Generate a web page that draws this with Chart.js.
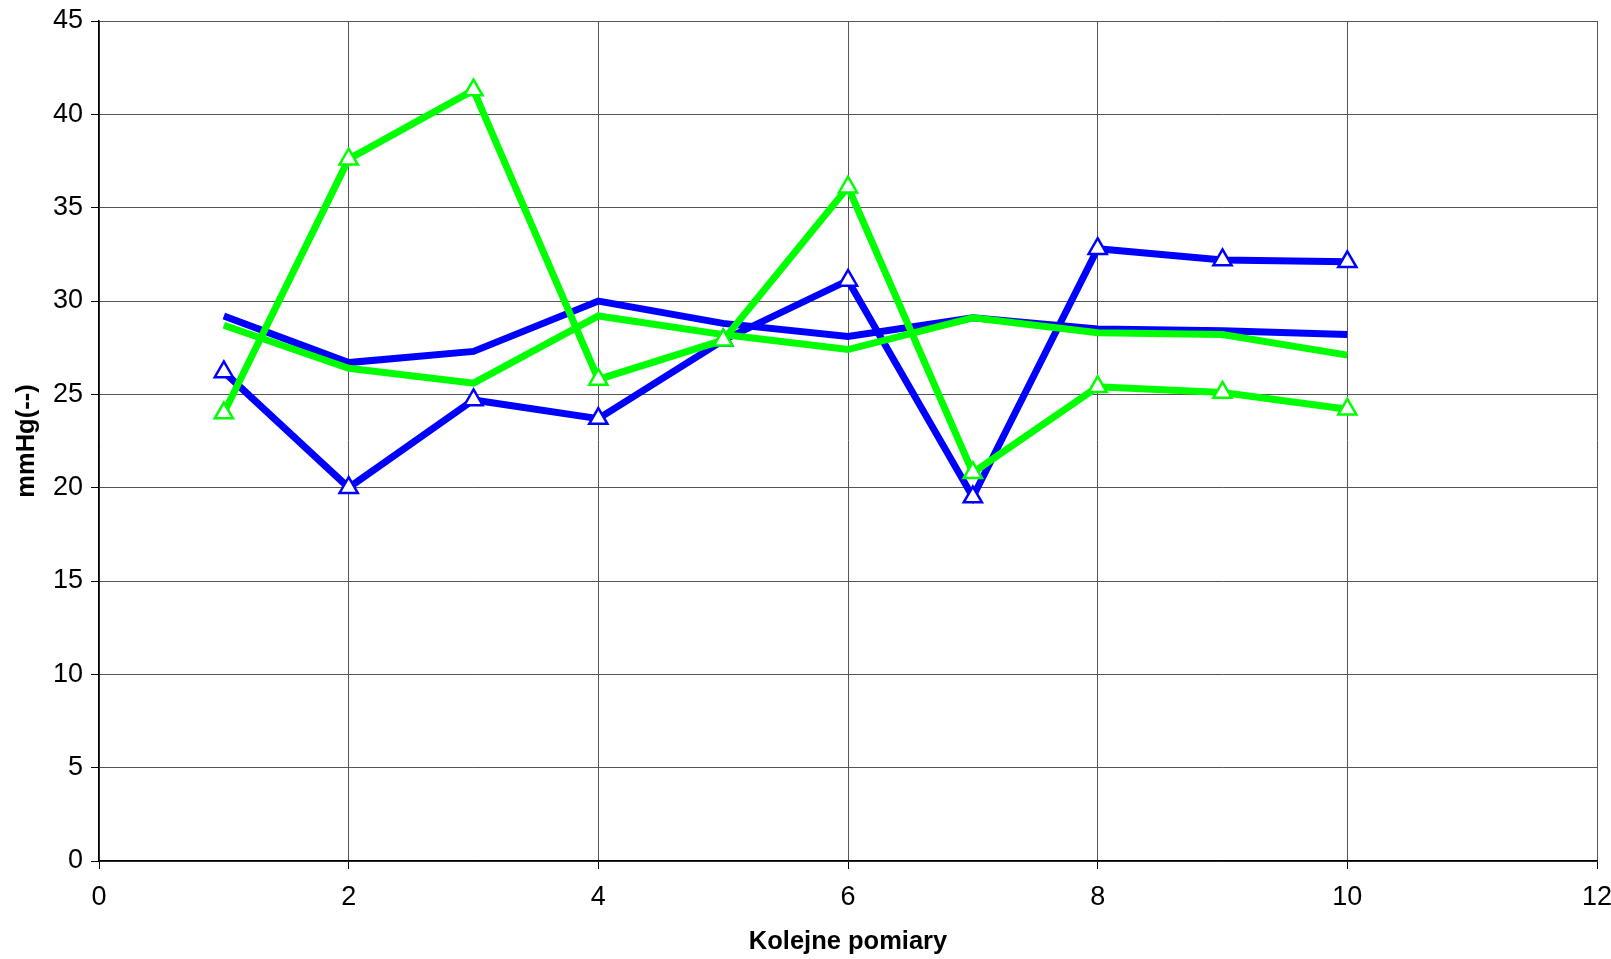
<!DOCTYPE html>
<html lang="pl">
<head>
  <meta charset="UTF-8">
  <title>Kolejne pomiary - mmHg</title>
  <script src="https://cdn.jsdelivr.net/npm/chart.js"></script>
  <style>
    body {
      margin: 0;
      padding: 0;
      background: #fff;
      overflow: hidden;
    }

    #wrap {
      width: 1611px;
      height: 959px;
    }
  </style>
</head>
<body>

  <div id="wrap"><canvas id="myChart"></canvas></div>

  <script>
    // measurement numbers (x axis)
    var pomiary = [1, 2, 3, 4, 5, 6, 7, 8, 9, 10];

    // series values
    var niebieskaLinia = [29.2, 26.7, 27.3, 30.0, 28.8, 28.1, 29.1, 28.5, 28.4, 28.2];
    var niebieskaTrojkaty = [26.2, 20.0, 24.7, 23.7, 27.9, 31.1, 19.5, 32.8, 32.2, 32.1];
    var zielonaLinia = [28.7, 26.4, 25.6, 29.2, 28.2, 27.4, 29.1, 28.3, 28.2, 27.1];
    var zielonaTrojkaty = [24.0, 37.6, 41.3, 25.8, 27.9, 36.1, 20.8, 25.4, 25.1, 24.2];

    // axis ticks
    var xTicks = [0, 2, 4, 6, 8, 10, 12];
    var yTicks = [0, 5, 10, 15, 20, 25, 30, 35, 40, 45];

    function toPoints(values) {
      return pomiary.map(function (x, i) { return { x: x, y: values[i] }; });
    }

    var fontFamily = '"Liberation Sans", Arial, sans-serif';
    var gridColor = '#555';

    var ctx = document.getElementById('myChart').getContext('2d');

    // dataset 0 is drawn on top, so greens go first
    var myChart = new Chart(ctx, {
      type: 'line',
      data: {
        datasets: [{
          label: 'zielona (trojkaty)',
          data: toPoints(zielonaTrojkaty),
          borderColor: '#00ff00',
          borderWidth: 7,
          pointStyle: 'triangle',
          pointRadius: 10.5,
          pointBorderWidth: 2.5,
          pointBackgroundColor: '#fff',
          pointBorderColor: '#00ff00'
        }, {
          label: 'zielona',
          data: toPoints(zielonaLinia),
          borderColor: '#00ff00',
          borderWidth: 7,
          pointRadius: 0
        }, {
          label: 'niebieska (trojkaty)',
          data: toPoints(niebieskaTrojkaty),
          borderColor: '#0000ff',
          borderWidth: 7,
          pointStyle: 'triangle',
          pointRadius: 10.5,
          pointBorderWidth: 2.5,
          pointBackgroundColor: '#fff',
          pointBorderColor: '#0000ff'
        }, {
          label: 'niebieska',
          data: toPoints(niebieskaLinia),
          borderColor: '#0000ff',
          borderWidth: 7,
          pointRadius: 0
        }]
      },
      options: {
        responsive: true,
        maintainAspectRatio: false,
        animation: false,
        layout: {
          padding: { top: 21, right: 14, left: 0, bottom: 0 }
        },
        plugins: {
          legend: { display: false },
          tooltip: { enabled: false }
        },
        scales: {
          x: {
            type: 'linear',
            min: 0,
            max: 12,
            afterBuildTicks: function (s) {
              s.ticks = xTicks.map(function (v) { return { value: v }; });
            },
            afterFit: function (s) {
              s.paddingLeft = 0;
              s.paddingRight = 0;
              s.height = 98;
            },
            ticks: {
              color: '#000',
              padding: 12,
              maxRotation: 0,
              autoSkip: false,
              font: { family: fontFamily, size: 27 }
            },
            grid: {
              color: gridColor,
              lineWidth: 1,
              tickColor: '#000',
              tickLength: 8
            },
            border: { color: '#000', width: 1.5 },
            title: {
              display: true,
              text: 'Kolejne pomiary',
              color: '#000',
              padding: { top: 0, bottom: 2 },
              font: { family: fontFamily, size: 25.5, weight: 'bold' }
            }
          },
          y: {
            min: 0,
            max: 45,
            afterBuildTicks: function (s) {
              s.ticks = yTicks.map(function (v) { return { value: v }; });
            },
            afterFit: function (s) {
              s.paddingTop = 0;
              s.paddingBottom = 0;
              s.width = 99;
            },
            ticks: {
              color: '#000',
              padding: 8,
              font: { family: fontFamily, size: 27 }
            },
            grid: {
              color: gridColor,
              lineWidth: 1,
              tickColor: '#000',
              tickLength: 8
            },
            border: { color: '#000', width: 1.5 },
            title: {
              display: true,
              text: 'mmHg(--)',
              color: '#000',
              padding: { top: 12, bottom: 0 },
              font: { family: fontFamily, size: 25.5, weight: 'bold' }
            }
          }
        }
      }
    });
  </script>

</body>
</html>
